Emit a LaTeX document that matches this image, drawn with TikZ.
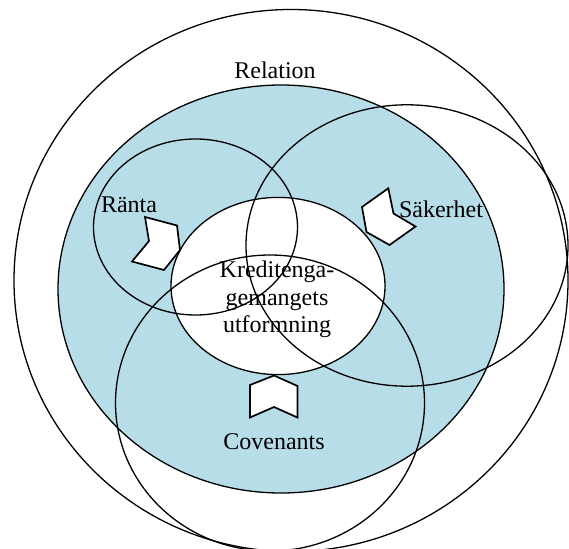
\documentclass[tikz,border=0pt]{standalone}
\usepackage{fontspec}
\setmainfont{Liberation Serif}
\usetikzlibrary{positioning}
\definecolor{venblue}{HTML}{B7DDE8}

\begin{document}
\begin{tikzpicture}[x=1pt, y=-1pt, line width=1.3pt,
    every node/.style={font=\fontsize{24}{27.5}\selectfont},
    chevron/.style={draw, fill=white, line width=1.7pt, line join=miter}]
  \useasboundingbox (0,0) rectangle (569,548);
  \fill[venblue] (281,289) ellipse [x radius=223pt, y radius=204pt];
  \fill[white] (278,286) ellipse [x radius=107pt, y radius=88.6pt];
  \draw[chevron] (145,217) -- (177,225.5) -- (180,250) -- (164,270) -- (132,261.5) -- (149,241) -- cycle;
  \draw[chevron] (388.3,188.3) -- (393.5,213.5) -- (415.5,226.5) -- (389.5,245) -- (366.5,232) -- (362,207) -- cycle;
  \draw[chevron] (274,375.5) -- (297.5,386) -- (297.5,417.5) -- (274,407) -- (250,417.5) -- (250,385) -- cycle;
  \draw (291,280.5) ellipse [x radius=277pt, y radius=271pt];
  \draw (281,289) ellipse [x radius=223pt, y radius=204pt];
  \draw (195.5,227) ellipse [x radius=102pt, y radius=88pt];
  \draw (407,245.5) ellipse [x radius=161pt, y radius=140.7pt];
  \draw (278,286) ellipse [x radius=107pt, y radius=88.6pt];
  \draw (270,403) ellipse [x radius=154.5pt, y radius=148pt];
  \node (relation) at (275,70) {Relation};
  \node (ranta) at (129,204.5) {Ränta};
  \node (sakerhet) at (441,209) {Säkerhet};
  \node[align=center] (kredit) at (277,299.5) {Kreditenga-\\gemangets\\utformning};
  \node (covenants) at (274,442) {Covenants};
\end{tikzpicture}
\end{document}
